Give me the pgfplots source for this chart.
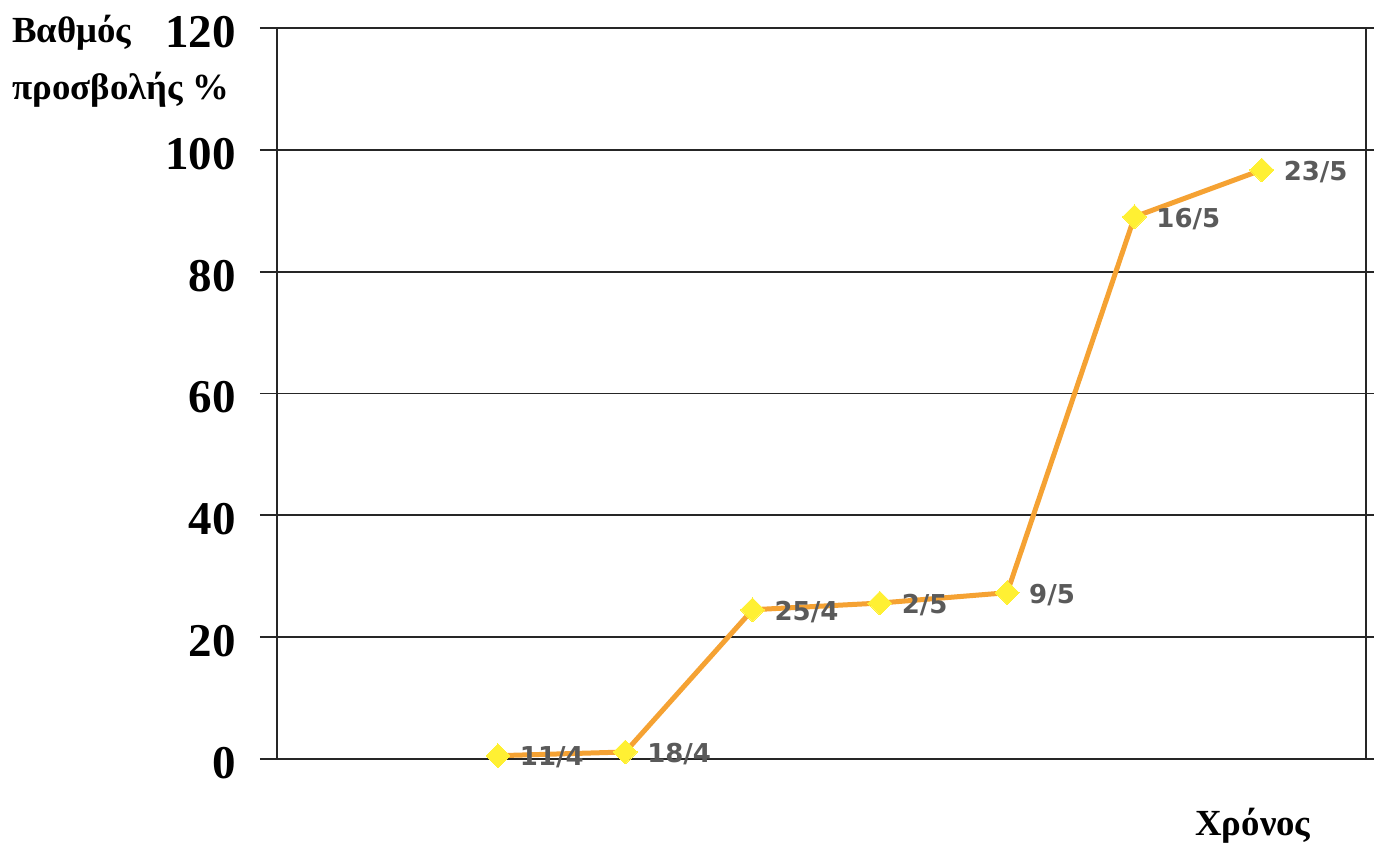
\documentclass[border=0pt]{standalone}
\usepackage{fontspec}
\setmainfont{Liberation Serif}
\newfontfamily\labfont{DejaVu Sans}
\usepackage{pgfplots}
\pgfplotsset{compat=1.18}
\definecolor{lineor}{HTML}{F5A233}
\definecolor{mkyel}{HTML}{FFF033}
\definecolor{labgray}{HTML}{5A5A5A}
\begin{document}
\begin{tikzpicture}
\path[use as bounding box] (-138.5bp,-45.5bp) rectangle (548.5bp,379.5bp);
\begin{axis}[at={(0,0)}, anchor=south west, scale only axis,
  width=544.5bp, height=365.5bp,
  xmin=-1.736, xmax=6.819, ymin=0, ymax=120,
  xtick=\empty, ytick={0,20,...,120},
  ymajorgrids, grid style={black!85, line width=0.85bp},
  axis line style={black!85, line width=0.85bp},
  tick style={black!85, line width=0.85bp},
  tick align=outside, major tick length=8.5bp,
  /pgf/number format/assume math mode=true,
  yticklabel style={font=\fontsize{23.5bp}{28bp}\selectfont\bfseries, anchor=east, inner sep=0pt, xshift=-12bp, yshift=-2bp},
  nodes near coords, point meta=explicit symbolic,
  every node near coord/.append style={anchor=west, inner sep=0pt, xshift=11bp, yshift=-1bp,
    font=\fontsize{13bp}{15bp}\selectfont\labfont\bfseries, text=labgray},
]
\addplot[color=lineor, line width=2.5bp, mark=square*, mark size=4.2bp,
  mark options={rotate=45, fill=mkyel, draw=mkyel, line width=0pt}] table[meta=lab] {
x y lab
0 0.54 11/4
1 1.15 18/4
2 24.5 25/4
3 25.6 2/5
4 27.3 9/5
5 89.0 16/5
6 96.7 23/5
};
\end{axis}
\node[anchor=base west, inner sep=0pt, font=\fontsize{18.4bp}{22bp}\selectfont\bfseries] at (-132.5bp,358bp) {Βαθμός};
\node[anchor=base west, inner sep=0pt, font=\fontsize{18.4bp}{22bp}\selectfont\bfseries] at (-132.5bp,329.5bp) {προσβολής \%};
\node[anchor=base west, inner sep=0pt, font=\fontsize{18.4bp}{22bp}\selectfont\bfseries] at (459bp,-38bp) {Χρόνος};
\end{tikzpicture}
\end{document}
